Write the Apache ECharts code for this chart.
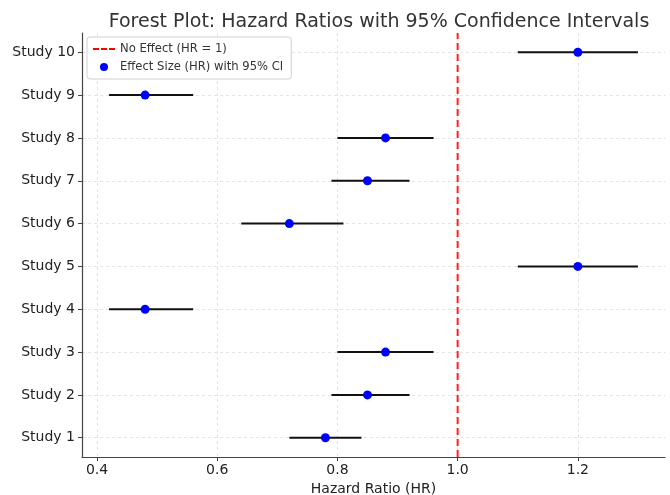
<!DOCTYPE html>
<html>
<head>
<meta charset="utf-8">
<script src="https://cdn.jsdelivr.net/npm/echarts@6/dist/echarts.min.js"></script>
<style>
  html, body { margin: 0; padding: 0; background: #fff; }
  #forestChart { width: 670px; height: 495px; }
</style>
</head>
<body>
<div id="forestChart"></div>
<script>
var studies = ['Study 1', 'Study 2', 'Study 3', 'Study 4', 'Study 5',
               'Study 6', 'Study 7', 'Study 8', 'Study 9', 'Study 10'];
var hr    = [0.78, 0.85, 0.88, 0.48, 1.20, 0.72, 0.85, 0.88, 0.48, 1.20];
var lower = [0.72, 0.79, 0.80, 0.42, 1.10, 0.64, 0.79, 0.80, 0.42, 1.10];
var upper = [0.84, 0.92, 0.96, 0.56, 1.30, 0.81, 0.92, 0.96, 0.56, 1.30];
var xTicks = [0.4, 0.6, 0.8, 1.0, 1.2];
var noEffect = 1;

var font = 'DejaVu Sans';
var yIdx = [];
var pointData = [];
var ciData = [];
for (var i = 0; i < studies.length; i++) {
    yIdx.push(i);
    pointData.push([hr[i], i]);
    ciData.push([lower[i], upper[i], i]);
}

var myChart = echarts.init(document.getElementById('forestChart'));
var option = {
    animation: false,
    backgroundColor: '#fff',
    title: {
        text: 'Forest Plot: Hazard Ratios with 95% Confidence Intervals',
        left: 374,
        textAlign: 'center',
        top: 8,
        textStyle: { fontFamily: font, fontSize: 19, fontWeight: 'normal', color: '#333' }
    },
    legend: {
        left: 87,
        top: 37,
        orient: 'vertical',
        itemGap: 6,
        itemWidth: 22,
        itemHeight: 8,
        padding: [6, 8, 6, 6],
        borderColor: '#d0d0d0',
        borderWidth: 1,
        borderRadius: 3,
        backgroundColor: 'rgba(255,255,255,0.85)',
        textStyle: { fontFamily: font, fontSize: 11.6, color: '#333' },
        data: [
            { name: 'No Effect (HR = 1)', icon: 'path://M0,0h6v2h-6zM8,0h6v2h-6zM16,0h6v2h-6z', itemStyle: { color: '#ff0000' } },
            { name: 'Effect Size (HR) with 95% CI', icon: 'circle', itemStyle: { color: '#0000ff' } }
        ]
    },
    grid: { left: 82, right: 5, top: 33, bottom: 38, containLabel: false, outerBoundsMode: 'none' },
    xAxis: {
        type: 'value',
        min: 0.375,
        max: 1.345,
        name: 'Hazard Ratio (HR)',
        nameLocation: 'middle',
        nameGap: 24,
        nameTextStyle: { fontFamily: font, fontSize: 14, color: '#222' },
        axisLine: { onZero: false, lineStyle: { color: '#444', width: 1.2 } },
        axisTick: { show: true, customValues: xTicks, length: 4, lineStyle: { color: '#444' } },
        axisLabel: {
            customValues: xTicks,
            fontFamily: font, fontSize: 14, color: '#222', margin: 6,
            formatter: function (v) { return v.toFixed(1); }
        },
        splitLine: { show: true, lineStyle: { color: '#dcdcdc', type: [3, 3], width: 0.8 } }
    },
    yAxis: {
        type: 'value',
        min: -0.45,
        max: 9.45,
        axisLine: { show: true, onZero: false, lineStyle: { color: '#444', width: 1.2 } },
        axisTick: { show: true, customValues: yIdx, length: 4, lineStyle: { color: '#444' } },
        axisLabel: {
            customValues: yIdx,
            fontFamily: font, fontSize: 14, color: '#222', margin: 7,
            formatter: function (v) { return studies[Math.round(v)]; }
        },
        splitLine: { show: true, lineStyle: { color: '#dcdcdc', type: [3, 3], width: 0.8 } }
    },
    series: [
        {
            name: 'No Effect (HR = 1)',
            type: 'line',
            symbol: 'none',
            silent: true,
            z: 1,
            data: [[noEffect, -0.45], [noEffect, 9.45]],
            itemStyle: { color: '#ff0000' },
            lineStyle: { color: '#ff2020', type: [7, 4], width: 2 }
        },
        {
            name: 'Effect Size (HR) with 95% CI',
            type: 'custom',
            z: 2,
            data: ciData,
            itemStyle: { color: '#000' },
            renderItem: function (params, api) {
                var a = api.coord([api.value(0), api.value(2)]);
                var b = api.coord([api.value(1), api.value(2)]);
                return {
                    type: 'line',
                    shape: { x1: a[0], y1: a[1], x2: b[0], y2: b[1] },
                    style: { stroke: '#111', lineWidth: 2 }
                };
            }
        },
        {
            name: 'Effect Size (HR) with 95% CI',
            type: 'scatter',
            z: 3,
            symbol: 'circle',
            symbolSize: 9,
            data: pointData,
            itemStyle: { color: '#0000ff', opacity: 1 }
        }
    ]
};
myChart.setOption(option);
</script>
</body>
</html>
